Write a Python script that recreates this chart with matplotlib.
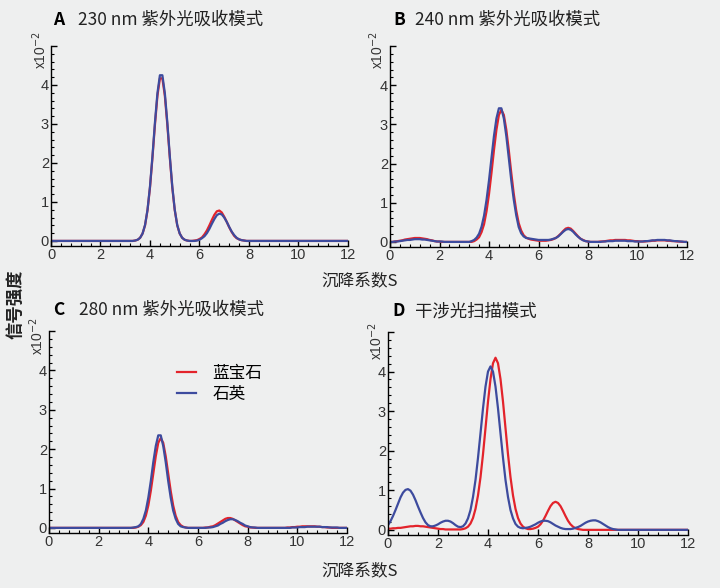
import numpy as np
import matplotlib
matplotlib.use("Agg")
import matplotlib.pyplot as plt
from matplotlib.ticker import MultipleLocator

# sedimentation coefficient grid (S), 0 to 12 in steps of 0.1
s_values = np.round(np.linspace(0, 12, 121), 1)

# ---- panel A: 230 nm ----
a_sapphire = [
    0, 0, 0, 0, 0, 0, 0, 0, 0, 0,
    0, 0, 0, 0, 0, 0, 0, 0, 0, 0,
    0, 0, 0, 0, 0, 0, 0, 0, 0, 0,
    0, 0, 0, 0, 0.01, 0.03, 0.08, 0.19, 0.40, 0.79,
    1.37, 2.14, 2.98, 3.72, 4.17, 4.17, 3.72, 2.98, 2.14, 1.37,
    0.79, 0.40, 0.19, 0.08, 0.03, 0.01, 0, 0, 0.01, 0.02,
    0.05, 0.09, 0.17, 0.27, 0.40, 0.54, 0.67, 0.76, 0.78, 0.73,
    0.62, 0.49, 0.35, 0.23, 0.13, 0.07, 0.04, 0.02, 0.01, 0,
    0, 0, 0, 0, 0, 0, 0, 0, 0, 0,
    0, 0, 0, 0, 0, 0, 0, 0, 0, 0,
    0, 0, 0, 0, 0, 0, 0, 0, 0, 0,
    0, 0, 0, 0, 0, 0, 0, 0, 0, 0,
    0]
a_quartz = [
    0, 0, 0, 0, 0, 0, 0, 0, 0, 0,
    0, 0, 0, 0, 0, 0, 0, 0, 0, 0,
    0, 0, 0, 0, 0, 0, 0, 0, 0, 0,
    0, 0, 0, 0, 0.01, 0.03, 0.08, 0.19, 0.41, 0.80,
    1.40, 2.18, 3.04, 3.79, 4.25, 4.25, 3.79, 3.04, 2.18, 1.40,
    0.80, 0.41, 0.19, 0.08, 0.03, 0.01, 0, 0, 0, 0.01,
    0.03, 0.07, 0.12, 0.20, 0.31, 0.44, 0.56, 0.66, 0.70, 0.68,
    0.60, 0.49, 0.36, 0.24, 0.15, 0.08, 0.04, 0.02, 0.01, 0,
    0, 0, 0, 0, 0, 0, 0, 0, 0, 0,
    0, 0, 0, 0, 0, 0, 0, 0, 0, 0,
    0, 0, 0, 0, 0, 0, 0, 0, 0, 0,
    0, 0, 0, 0, 0, 0, 0, 0, 0, 0,
    0]

# ---- panel B: 240 nm ----
b_sapphire = [
    0, 0, 0.01, 0.02, 0.03, 0.04, 0.06, 0.07, 0.08, 0.09,
    0.10, 0.10, 0.10, 0.09, 0.08, 0.07, 0.05, 0.04, 0.02, 0.01,
    0.01, 0, 0, 0, 0, 0, 0, 0, 0, 0,
    0, 0, 0, 0, 0.02, 0.06, 0.12, 0.25, 0.45, 0.78,
    1.22, 1.76, 2.34, 2.86, 3.24, 3.37, 3.24, 2.86, 2.34, 1.76,
    1.23, 0.80, 0.48, 0.29, 0.17, 0.11, 0.08, 0.06, 0.05, 0.04,
    0.03, 0.03, 0.03, 0.03, 0.04, 0.05, 0.07, 0.10, 0.15, 0.21,
    0.28, 0.34, 0.36, 0.34, 0.28, 0.21, 0.14, 0.08, 0.05, 0.02,
    0.01, 0, 0, 0, 0, 0.01, 0.01, 0.02, 0.03, 0.04,
    0.04, 0.05, 0.05, 0.05, 0.05, 0.05, 0.04, 0.04, 0.03, 0.02,
    0.02, 0.01, 0.01, 0.01, 0.02, 0.02, 0.03, 0.03, 0.04, 0.04,
    0.04, 0.04, 0.03, 0.03, 0.02, 0.02, 0.01, 0.01, 0, 0,
    0]
b_quartz = [
    0, 0, 0.01, 0.01, 0.02, 0.03, 0.04, 0.05, 0.05, 0.06,
    0.07, 0.07, 0.07, 0.06, 0.06, 0.05, 0.04, 0.03, 0.02, 0.01,
    0.01, 0.01, 0, 0, 0, 0, 0, 0, 0, 0,
    0, 0, 0, 0.02, 0.05, 0.11, 0.21, 0.39, 0.67, 1.07,
    1.57, 2.14, 2.70, 3.15, 3.41, 3.41, 3.15, 2.70, 2.14, 1.57,
    1.08, 0.68, 0.38, 0.22, 0.14, 0.10, 0.09, 0.08, 0.07, 0.06,
    0.05, 0.05, 0.05, 0.05, 0.05, 0.06, 0.08, 0.10, 0.14, 0.20,
    0.26, 0.31, 0.33, 0.31, 0.26, 0.19, 0.13, 0.08, 0.04, 0.02,
    0.01, 0, 0, 0, 0, 0, 0.01, 0.01, 0.02, 0.02,
    0.02, 0.03, 0.03, 0.03, 0.03, 0.03, 0.02, 0.02, 0.02, 0.01,
    0.01, 0.01, 0.01, 0.02, 0.02, 0.03, 0.04, 0.04, 0.05, 0.05,
    0.05, 0.05, 0.04, 0.04, 0.03, 0.02, 0.02, 0.01, 0.01, 0,
    0]

# ---- panel C: 280 nm ----
c_sapphire = [
    0, 0, 0, 0, 0, 0, 0, 0, 0, 0,
    0, 0, 0, 0, 0, 0, 0, 0, 0, 0,
    0, 0, 0, 0, 0, 0, 0, 0, 0, 0,
    0, 0, 0, 0, 0, 0.01, 0.03, 0.07, 0.15, 0.31,
    0.57, 0.94, 1.38, 1.82, 2.16, 2.28, 2.16, 1.82, 1.38, 0.94,
    0.57, 0.31, 0.15, 0.07, 0.03, 0.01, 0, 0, 0, 0,
    0, 0, 0, 0.01, 0.01, 0.03, 0.04, 0.07, 0.11, 0.15,
    0.19, 0.23, 0.25, 0.25, 0.23, 0.19, 0.15, 0.11, 0.07, 0.04,
    0.03, 0.01, 0.01, 0, 0, 0, 0, 0, 0, 0,
    0, 0, 0, 0, 0, 0, 0.01, 0.01, 0.02, 0.02,
    0.03, 0.03, 0.04, 0.04, 0.04, 0.04, 0.04, 0.04, 0.03, 0.03,
    0.02, 0.02, 0.01, 0.01, 0, 0, 0, 0, 0, 0,
    0]
c_quartz = [
    0, 0, 0, 0, 0, 0, 0, 0, 0, 0,
    0, 0, 0, 0, 0, 0, 0, 0, 0, 0,
    0, 0, 0, 0, 0, 0, 0, 0, 0, 0,
    0, 0, 0, 0, 0.01, 0.02, 0.04, 0.10, 0.23, 0.44,
    0.77, 1.19, 1.67, 2.08, 2.35, 2.35, 2.08, 1.67, 1.19, 0.77,
    0.44, 0.23, 0.10, 0.04, 0.02, 0.01, 0, 0, 0, 0,
    0, 0, 0, 0, 0.01, 0.01, 0.02, 0.04, 0.06, 0.10,
    0.13, 0.17, 0.20, 0.22, 0.22, 0.20, 0.17, 0.13, 0.10, 0.06,
    0.04, 0.02, 0.01, 0.01, 0, 0, 0, 0, 0, 0,
    0, 0, 0, 0, 0, 0, 0, 0, 0.01, 0.01,
    0.01, 0.02, 0.02, 0.02, 0.03, 0.03, 0.03, 0.03, 0.03, 0.03,
    0.02, 0.02, 0.02, 0.01, 0.01, 0.01, 0.01, 0, 0, 0,
    0]

# ---- panel D: interference ----
d_sapphire = [
    0.03, 0.03, 0.04, 0.04, 0.05, 0.05, 0.06, 0.07, 0.08, 0.09,
    0.09, 0.10, 0.10, 0.09, 0.09, 0.08, 0.07, 0.06, 0.05, 0.04,
    0.03, 0.02, 0.02, 0.01, 0.01, 0.01, 0.01, 0.01, 0.01, 0.01,
    0.02, 0.04, 0.08, 0.16, 0.30, 0.53, 0.87, 1.33, 1.91, 2.57,
    3.24, 3.81, 4.21, 4.35, 4.21, 3.81, 3.24, 2.57, 1.91, 1.33,
    0.87, 0.53, 0.30, 0.16, 0.08, 0.04, 0.02, 0.02, 0.03, 0.05,
    0.08, 0.14, 0.23, 0.35, 0.48, 0.60, 0.68, 0.71, 0.68, 0.60,
    0.48, 0.35, 0.23, 0.14, 0.08, 0.04, 0.02, 0.01, 0, 0,
    0, 0, 0, 0, 0, 0, 0, 0, 0, 0,
    0, 0, 0, 0, 0, 0, 0, 0, 0, 0,
    0, 0, 0, 0, 0, 0, 0, 0, 0, 0,
    0, 0, 0, 0, 0, 0, 0, 0, 0, 0,
    0]
d_quartz = [
    0.12, 0.22, 0.35, 0.50, 0.66, 0.82, 0.94, 1.01, 1.03, 0.99,
    0.89, 0.75, 0.59, 0.44, 0.30, 0.19, 0.12, 0.09, 0.09, 0.11,
    0.14, 0.18, 0.21, 0.23, 0.23, 0.21, 0.17, 0.12, 0.08, 0.07,
    0.09, 0.16, 0.29, 0.50, 0.83, 1.26, 1.82, 2.44, 3.07, 3.62,
    4.00, 4.13, 4.00, 3.62, 3.07, 2.44, 1.82, 1.26, 0.83, 0.50,
    0.29, 0.15, 0.08, 0.05, 0.04, 0.05, 0.06, 0.08, 0.11, 0.14,
    0.18, 0.21, 0.23, 0.23, 0.22, 0.19, 0.15, 0.11, 0.08, 0.05,
    0.03, 0.02, 0.02, 0.02, 0.03, 0.05, 0.07, 0.10, 0.14, 0.18,
    0.21, 0.23, 0.24, 0.24, 0.22, 0.19, 0.15, 0.11, 0.07, 0.04,
    0.02, 0.01, 0, 0, 0, 0, 0, 0, 0, 0,
    0, 0, 0, 0, 0, 0, 0, 0, 0, 0,
    0, 0, 0, 0, 0, 0, 0, 0, 0, 0,
    0]

panel_letters = ["A", "B", "C", "D"]
panel_titles = ["230 nm 紫外光吸收模式", "240 nm 紫外光吸收模式",
                "280 nm 紫外光吸收模式", "干涉光扫描模式"]
series_names = ["蓝宝石", "石英"]
y_label = "信号强度"
x_label = "沉降系数S"

RED = "#e3232b"
BLUE = "#3d4b9e"
BG = "#eeefef"
CJK = ["Noto Sans CJK SC", "DejaVu Sans"]

plt.rcParams["font.family"] = ["Liberation Sans", "DejaVu Sans"]

W, H = 720, 588
fig = plt.figure(figsize=(W / 100, H / 100), dpi=100, facecolor=BG)


def px_box(left, top, right, bottom):
    return [left / W, 1 - bottom / H, (right - left) / W, (bottom - top) / H]


# axes boxes in pixels: left, top, right, bottom
boxes = [(51, 46, 348, 246), (390, 46, 687, 247),
         (49, 331, 347, 533), (388, 332, 688, 535)]
# title anchor points (letter x, text x, y centre)
title_pos = [(53, 78, 20), (393, 415, 20), (53, 79, 310), (392, 415, 311)]
exp_pos = [(40, 50), (377, 50), (37, 336), (376, 341)]

data = [(a_sapphire, a_quartz), (b_sapphire, b_quartz),
        (c_sapphire, c_quartz), (d_sapphire, d_quartz)]

axes = []
for i in range(4):
    ax = fig.add_axes(px_box(*boxes[i]))
    ax.set_facecolor(BG)
    red, blue = data[i]
    ax.plot(s_values, red, color=RED, lw=1.6, label=series_names[0])
    ax.plot(s_values, blue, color=BLUE, lw=1.6, label=series_names[1])
    ax.set_xlim(0, 12)
    ax.set_ylim(-0.13, 5.0)
    ax.set_xticks(range(0, 13, 2))
    ax.set_yticks(range(0, 6))
    ax.set_yticklabels(["0", "1", "2", "3", "4", ""])
    ax.xaxis.set_minor_locator(MultipleLocator(0.4))
    ax.yaxis.set_minor_locator(MultipleLocator(0.2))
    ax.tick_params(direction="in", length=4, width=1, labelsize=10.5,
                   labelcolor="#333333", pad=1.5)
    ax.tick_params(which="minor", direction="in", length=2, width=0.8)
    for side in ["top", "right"]:
        ax.spines[side].set_visible(False)
    for side in ["left", "bottom"]:
        ax.spines[side].set_linewidth(1.0)
    lx, tx, ty = title_pos[i]
    fig.text(lx / W, 1 - ty / H, panel_letters[i], fontsize=12.5,
             fontweight="bold", va="center", ha="left", family=CJK)
    fig.text(tx / W, 1 - ty / H, panel_titles[i], fontsize=12.5,
             va="center", ha="left", family=CJK, color="#222222")
    ex, ey = exp_pos[i]
    fig.text(ex / W, 1 - ey / H, r"x10$^{-2}$", fontsize=10, rotation=90,
             va="center", ha="center", color="#333333")
    axes.append(ax)

leg = axes[2].legend(loc="upper left", bbox_to_anchor=(0.38, 0.905),
                     frameon=False, handlelength=1.15, handletextpad=0.95,
                     labelspacing=0.2, prop={"family": CJK, "size": 12})

fig.text(360 / W, 1 - 281 / H, x_label, fontsize=12, ha="center",
         va="center", family=CJK, color="#222222")
fig.text(360 / W, 1 - 571 / H, x_label, fontsize=12, ha="center",
         va="center", family=CJK, color="#222222")
fig.text(15 / W, 1 - 304 / H, y_label, fontsize=12.5, rotation=90,
         ha="center", va="center", family=CJK, fontweight="bold",
         color="#222222")

fig.savefig("out.png", dpi=100, facecolor=BG)
